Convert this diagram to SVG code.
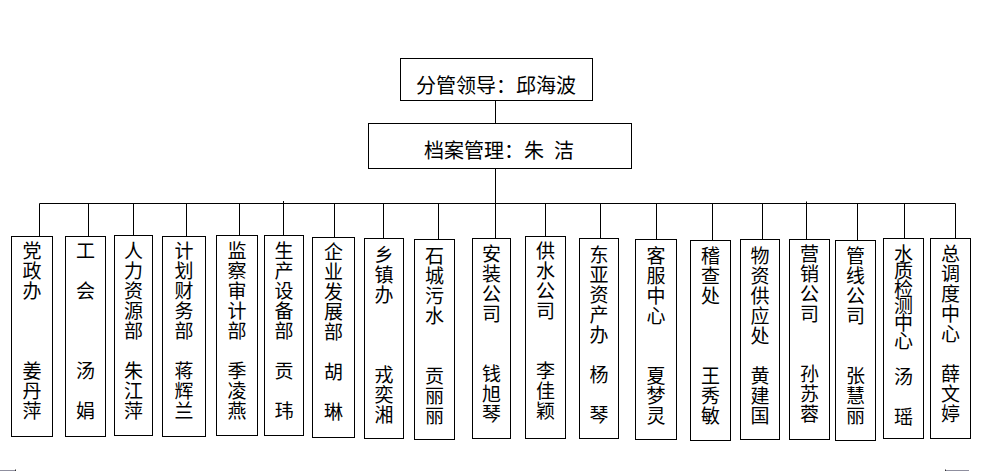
<svg xmlns="http://www.w3.org/2000/svg" width="985" height="472" viewBox="0 0 985 472">
<style>
.box{fill:#fff;stroke:#000;stroke-width:1}
.ln{stroke:#000;stroke-width:1;fill:none}
.h{font-family:"Noto Sans CJK SC","Noto Sans CJK JP",sans-serif;font-size:20px;fill:#000}
.v{font-family:"Noto Sans CJK SC","Noto Sans CJK JP",sans-serif;font-size:19px;fill:#000;text-anchor:middle}
.mark{stroke:#8f8f9f;stroke-width:1}
</style>
<rect width="985" height="472" fill="#fff"/>
<g id="connectors">
<path class="ln" d="M495.5 100.5V123.5M495.5 168.5V203.5M39.5 203.5H955.5"/>
<path class="ln" d="M39.5 203.5V236.5M88.5 203.5V236.5M133.5 203.5V235.5M186.5 203.5V236.5M239.5 203.5V235.5M283.5 201V235.5M334.5 203.5V237.5M383.5 203.5V238.5M438.5 203.5V239.5M495.5 203.5V238.5M545.5 203.5V236.5M600.5 203.5V238.5M656.5 203.5V239.5M712.5 203.5V240.5M762.5 203.5V239.5M806.5 201.5V239.5M857.5 203.5V240.5M904.5 203.5V238.5M955.5 203.5V238.5"/>
</g>
<g id="leader">
<rect class="box" x="400.5" y="58.5" width="192" height="42"/>
<text class="h" x="416" y="92.5">分管领导：邱海波</text>
</g>
<g id="archive">
<rect class="box" x="368.5" y="123.5" width="263" height="45"/>
<text class="h" x="424" y="157.5">档案管理：朱</text>
<text class="h" x="554" y="157.5">洁</text>
</g>
<g id="n1">
<rect class="box" x="11.5" y="236.5" width="41" height="200"/>
<text class="v"><tspan x="32" y="257.7">党</tspan><tspan x="32" y="277.7">政</tspan><tspan x="32" y="297.7">办</tspan><tspan x="32" y="377.7">姜</tspan><tspan x="32" y="397.7">丹</tspan><tspan x="32" y="417.7">萍</tspan></text>
</g>
<g id="n2">
<rect class="box" x="65.5" y="236.5" width="40" height="200"/>
<text class="v"><tspan x="85.5" y="257.7">工</tspan><tspan x="85.5" y="297.7">会</tspan><tspan x="85.5" y="377.7">汤</tspan><tspan x="85.5" y="417.7">娟</tspan></text>
</g>
<g id="n3">
<rect class="box" x="114.5" y="235.5" width="38" height="200"/>
<text class="v"><tspan x="133.5" y="257.7">人</tspan><tspan x="133.5" y="277.7">力</tspan><tspan x="133.5" y="297.7">资</tspan><tspan x="133.5" y="317.7">源</tspan><tspan x="133.5" y="337.7">部</tspan><tspan x="133.5" y="377.7">朱</tspan><tspan x="133.5" y="397.7">江</tspan><tspan x="133.5" y="417.7">萍</tspan></text>
</g>
<g id="n4">
<rect class="box" x="162.5" y="236.5" width="43" height="200"/>
<text class="v"><tspan x="184" y="257.7">计</tspan><tspan x="184" y="277.7">划</tspan><tspan x="184" y="297.7">财</tspan><tspan x="184" y="317.7">务</tspan><tspan x="184" y="337.7">部</tspan><tspan x="184" y="377.7">蒋</tspan><tspan x="184" y="397.7">辉</tspan><tspan x="184" y="417.7">兰</tspan></text>
</g>
<g id="n5">
<rect class="box" x="216.5" y="235.5" width="41" height="200"/>
<text class="v"><tspan x="237" y="257.7">监</tspan><tspan x="237" y="277.7">察</tspan><tspan x="237" y="297.7">审</tspan><tspan x="237" y="317.7">计</tspan><tspan x="237" y="337.7">部</tspan><tspan x="237" y="377.7">季</tspan><tspan x="237" y="397.7">凌</tspan><tspan x="237" y="417.7">燕</tspan></text>
</g>
<g id="n6">
<rect class="box" x="264.5" y="235.5" width="39" height="200"/>
<text class="v"><tspan x="284" y="257.7">生</tspan><tspan x="284" y="277.7">产</tspan><tspan x="284" y="297.7">设</tspan><tspan x="284" y="317.7">备</tspan><tspan x="284" y="337.7">部</tspan><tspan x="284" y="377.7">贡</tspan><tspan x="284" y="417.7">玮</tspan></text>
</g>
<g id="n7">
<rect class="box" x="312.5" y="237.5" width="42" height="200"/>
<text class="v"><tspan x="333.5" y="258.5">企</tspan><tspan x="333.5" y="278.5">业</tspan><tspan x="333.5" y="298.5">发</tspan><tspan x="333.5" y="318.5">展</tspan><tspan x="333.5" y="338.5">部</tspan><tspan x="333.5" y="378.5">胡</tspan><tspan x="333.5" y="419">琳</tspan></text>
</g>
<g id="n8">
<rect class="box" x="364.5" y="238.5" width="39" height="200"/>
<text class="v"><tspan x="384" y="262">乡</tspan><tspan x="384" y="282">镇</tspan><tspan x="384" y="302">办</tspan><tspan x="384" y="382">戎</tspan><tspan x="384" y="402">奕</tspan><tspan x="384" y="422">湘</tspan></text>
</g>
<g id="n9">
<rect class="box" x="414.5" y="239.5" width="40" height="200"/>
<text class="v"><tspan x="434.5" y="262.7">石</tspan><tspan x="434.5" y="282.7">城</tspan><tspan x="434.5" y="302.7">污</tspan><tspan x="434.5" y="322.7">水</tspan><tspan x="434.5" y="382.7">贡</tspan><tspan x="434.5" y="402.7">丽</tspan><tspan x="434.5" y="422.7">丽</tspan></text>
</g>
<g id="n10">
<rect class="box" x="472.5" y="238.5" width="38" height="200"/>
<text class="v"><tspan x="491.5" y="261">安</tspan><tspan x="491.5" y="281">装</tspan><tspan x="491.5" y="301">公</tspan><tspan x="491.5" y="321">司</tspan><tspan x="491.5" y="381">钱</tspan><tspan x="491.5" y="401">旭</tspan><tspan x="491.5" y="421">琴</tspan></text>
</g>
<g id="n11">
<rect class="box" x="525.5" y="236.5" width="40" height="202"/>
<text class="v"><tspan x="545.5" y="257.7">供</tspan><tspan x="545.5" y="277.7">水</tspan><tspan x="545.5" y="297.7">公</tspan><tspan x="545.5" y="317.7">司</tspan><tspan x="545.5" y="377.7">李</tspan><tspan x="545.5" y="397.7">佳</tspan><tspan x="545.5" y="417.7">颖</tspan></text>
</g>
<g id="n12">
<rect class="box" x="579.5" y="238.5" width="39" height="200"/>
<text class="v"><tspan x="599" y="262">东</tspan><tspan x="599" y="282">亚</tspan><tspan x="599" y="302">资</tspan><tspan x="599" y="322">产</tspan><tspan x="599" y="342">办</tspan><tspan x="599" y="382">杨</tspan><tspan x="599" y="422">琴</tspan></text>
</g>
<g id="n13">
<rect class="box" x="635.5" y="239.5" width="41" height="200"/>
<text class="v"><tspan x="656" y="262.7">客</tspan><tspan x="656" y="282.7">服</tspan><tspan x="656" y="302.7">中</tspan><tspan x="656" y="322.7">心</tspan><tspan x="656" y="382.7">夏</tspan><tspan x="656" y="402.7">梦</tspan><tspan x="656" y="422.7">灵</tspan></text>
</g>
<g id="n14">
<rect class="box" x="690.5" y="240.5" width="40" height="200"/>
<text class="v"><tspan x="710.5" y="262.7">稽</tspan><tspan x="710.5" y="282.7">查</tspan><tspan x="710.5" y="302.7">处</tspan><tspan x="710.5" y="382.7">王</tspan><tspan x="710.5" y="402.7">秀</tspan><tspan x="710.5" y="422.7">敏</tspan></text>
</g>
<g id="n15">
<rect class="box" x="740.5" y="239.5" width="39" height="200"/>
<text class="v"><tspan x="760" y="262.7">物</tspan><tspan x="760" y="282.7">资</tspan><tspan x="760" y="302.7">供</tspan><tspan x="760" y="322.7">应</tspan><tspan x="760" y="342.7">处</tspan><tspan x="760" y="382.7">黄</tspan><tspan x="760" y="402.7">建</tspan><tspan x="760" y="422.7">国</tspan></text>
</g>
<g id="n16">
<rect class="box" x="789.5" y="239.5" width="40" height="200"/>
<text class="v"><tspan x="809.5" y="261">营</tspan><tspan x="809.5" y="281">销</tspan><tspan x="809.5" y="301">公</tspan><tspan x="809.5" y="321">司</tspan><tspan x="809.5" y="381">孙</tspan><tspan x="809.5" y="401">苏</tspan><tspan x="809.5" y="421">蓉</tspan></text>
</g>
<g id="n17">
<rect class="box" x="835.5" y="240.5" width="40" height="200"/>
<text class="v"><tspan x="855.5" y="262.7">管</tspan><tspan x="855.5" y="282.7">线</tspan><tspan x="855.5" y="302.7">公</tspan><tspan x="855.5" y="322.7">司</tspan><tspan x="855.5" y="382.7">张</tspan><tspan x="855.5" y="402.7">慧</tspan><tspan x="855.5" y="422.7">丽</tspan></text>
</g>
<g id="n18">
<rect class="box" x="883.5" y="238.5" width="40" height="200"/>
<text class="v"><tspan x="903.5" y="261">水</tspan><tspan x="903.5" y="278.3">质</tspan><tspan x="903.5" y="295.6">检</tspan><tspan x="903.5" y="312.9">测</tspan><tspan x="903.5" y="330.2">中</tspan><tspan x="903.5" y="347.5">心</tspan><tspan x="903.5" y="384.3">汤</tspan><tspan x="903.5" y="424.3">瑶</tspan></text>
</g>
<g id="n19">
<rect class="box" x="930.5" y="238.5" width="40" height="200"/>
<text class="v"><tspan x="950.5" y="261">总</tspan><tspan x="950.5" y="281">调</tspan><tspan x="950.5" y="301">度</tspan><tspan x="950.5" y="321">中</tspan><tspan x="950.5" y="341">心</tspan><tspan x="950.5" y="381">薛</tspan><tspan x="950.5" y="401">文</tspan><tspan x="950.5" y="421">婷</tspan></text>
</g>
<path class="mark" d="M0 470.5H15M945 470.5H969"/>
<path stroke="#333" stroke-width="1" d="M15.5 469.5V471M945.5 469.5V471"/>
</svg>
